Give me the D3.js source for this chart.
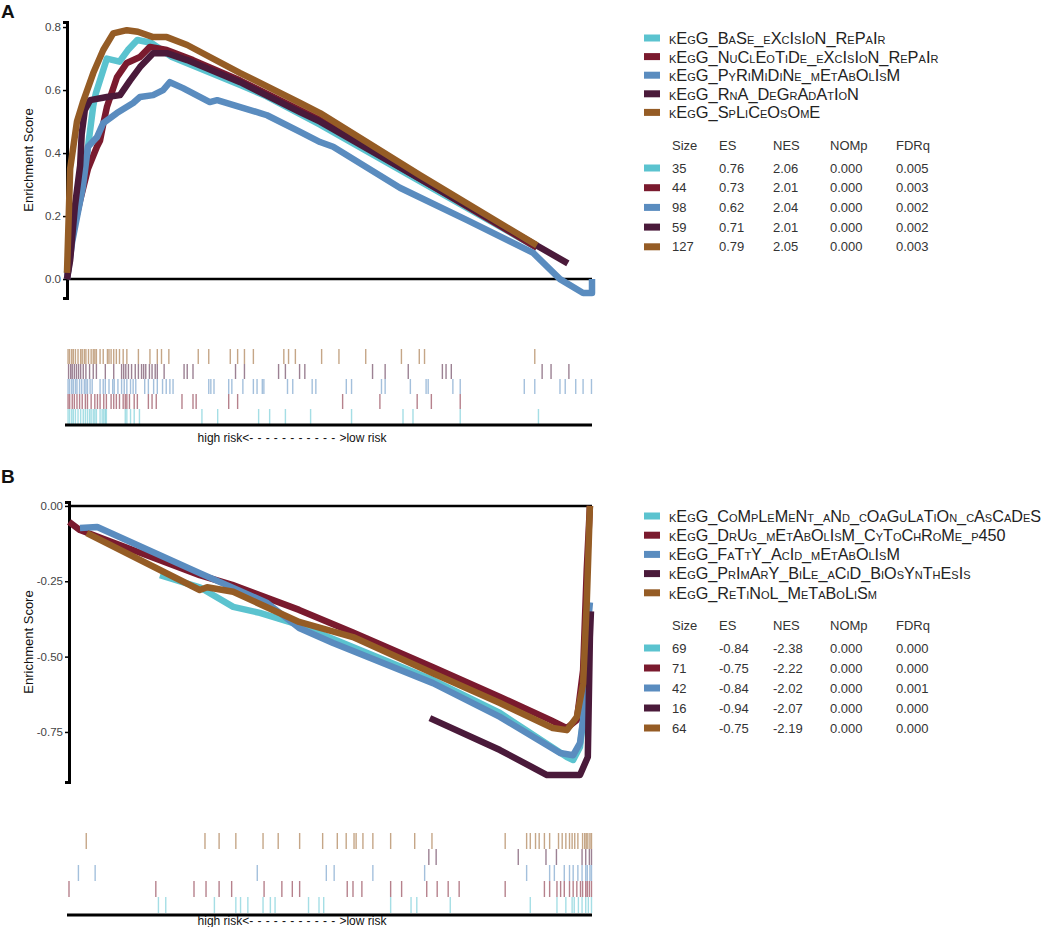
<!DOCTYPE html>
<html>
<head>
<meta charset="utf-8">
<script src="https://cdn.jsdelivr.net/npm/d3@7"></script>
<style>
  body { margin: 0; background: #fff; }
  text { font-family: "Liberation Sans", Arial, sans-serif; }
</style>
</head>
<body>
<svg id="chart" width="1052" height="927"></svg>
<script>
// colours shared by both panels (legend order)
const seriesColours = ["#5bc3cf", "#7a1a2e", "#5a8cbf", "#4a1a3a", "#955c25"];

// ---------- panel A ----------
const aNames = [
  "kEgG_BaSe_eXcIsIoN_RePaIr",
  "kEgG_NuClEoTiDe_eXcIsIoN_RePaIr",
  "kEgG_PyRiMiDiNe_mEtAbOlIsM",
  "kEgG_RnA_DeGrAdAtIoN",
  "kEgG_SpLiCeOsOmE"
];
const aSize = ["35", "44", "98", "59", "127"];
const aES = ["0.76", "0.73", "0.62", "0.71", "0.79"];
const aNES = ["2.06", "2.01", "2.04", "2.01", "2.05"];
const aNOMp = ["0.000", "0.000", "0.000", "0.000", "0.000"];
const aFDRq = ["0.005", "0.003", "0.002", "0.002", "0.003"];
const aTicks = [0, 0.2, 0.4, 0.6, 0.8];

// running enrichment score, [position in ranked list (0-1), ES]
const aBaseExcision = [[0,0.02],[0.01,0.15],[0.03,0.3],[0.04,0.42],[0.05,0.55],[0.055,0.59],[0.076,0.70],[0.10,0.69],[0.116,0.727],[0.134,0.759],[0.16,0.75],[0.2,0.705],[0.33,0.616],[0.38,0.58],[0.482,0.49],[0.895,0.10]];
const aNucleotideExcision = [[0,0],[0.01,0.14],[0.025,0.25],[0.04,0.35],[0.057,0.42],[0.063,0.44],[0.07,0.50],[0.076,0.546],[0.095,0.64],[0.114,0.686],[0.139,0.705],[0.158,0.737],[0.19,0.727],[0.24,0.695],[0.33,0.63],[0.482,0.505],[0.895,0.10]];
const aPyrimidine = [[0,0],[0.01,0.12],[0.03,0.29],[0.04,0.42],[0.057,0.45],[0.069,0.495],[0.095,0.527],[0.126,0.559],[0.139,0.578],[0.164,0.584],[0.183,0.60],[0.196,0.625],[0.221,0.606],[0.272,0.562],[0.286,0.568],[0.368,0.527],[0.381,0.52],[0.444,0.467],[0.482,0.435],[0.507,0.42],[0.634,0.29],[0.762,0.187],[0.888,0.083],[0.939,0.0],[0.983,-0.044],[1.0,-0.044],[1.0,0]];
const aRnaDegradation = [[0,0],[0.006,0.06],[0.015,0.23],[0.025,0.36],[0.028,0.46],[0.034,0.537],[0.044,0.568],[0.076,0.578],[0.101,0.584],[0.12,0.63],[0.139,0.673],[0.164,0.717],[0.19,0.717],[0.229,0.695],[0.33,0.625],[0.444,0.53],[0.482,0.50],[0.954,0.05]];
const aSpliceosome = [[0,0.02],[0.006,0.35],[0.019,0.5],[0.03,0.56],[0.05,0.654],[0.069,0.727],[0.088,0.78],[0.114,0.79],[0.135,0.785],[0.164,0.768],[0.19,0.768],[0.229,0.743],[0.33,0.654],[0.444,0.559],[0.482,0.527],[0.672,0.33],[0.895,0.107]];

// gene-set hits along the ranked list
const aHitsBase = [.002,.005,.009,.012,.016,.021,.026,.031,.035,.039,.043,.046,.050,.053,.056,.063,.067,.070,.073,.075,.111,.114,.121,.128,.138,.257,.287,.365,.386,.416,.464,.542,.640,.659,.749,.898];
const aHitsNucleotide = [.002,.005,.010,.014,.019,.024,.029,.035,.039,.046,.053,.058,.063,.070,.075,.084,.089,.094,.100,.107,.111,.114,.119,.128,.134,.155,.162,.170,.219,.240,.246,.308,.325,.525,.596,.667,.694,.749];
const aHitsPyrimidine = [.002,.005,.009,.012,.016,.019,.024,.028,.033,.036,.039,.044,.048,.063,.069,.073,.080,.087,.090,.097,.104,.109,.114,.121,.126,.131,.148,.155,.165,.172,.182,.189,.196,.202,.270,.274,.280,.308,.314,.335,.355,.362,.372,.375,.420,.430,.467,.474,.532,.542,.599,.606,.654,.684,.688,.735,.749,.871,.891,.939,.949,.969,.983,.999];
const aHitsRna = [.003,.007,.010,.014,.018,.022,.026,.031,.036,.043,.050,.056,.073,.089,.104,.108,.112,.117,.123,.130,.136,.142,.146,.150,.157,.162,.168,.172,.185,.223,.229,.240,.321,.338,.403,.416,.443,.453,.582,.606,.650,.715,.722,.732,.905,.922,.956];
const aHitsSpliceosome = [.002,.005,.009,.012,.016,.021,.026,.029,.033,.036,.041,.046,.050,.053,.056,.063,.069,.077,.080,.084,.089,.094,.100,.107,.114,.136,.158,.172,.180,.194,.250,.270,.311,.325,.338,.355,.413,.422,.435,.485,.518,.569,.637,.671,.681,.891];

// ---------- panel B ----------
const bNames = [
  "kEgG_CoMpLeMeNt_aNd_cOaGuLaTiOn_cAsCaDeS",
  "kEgG_DrUg_mEtAbOlIsM_CyToChRoMe_p450",
  "kEgG_FaTtY_AcId_mEtAbOlIsM",
  "kEgG_PrImArY_BiLe_aCiD_BiOsYnThEsIs",
  "kEgG_ReTiNoL_MeTaBoLiSm"
];
const bSize = ["69", "71", "42", "16", "64"];
const bES = ["-0.84", "-0.75", "-0.84", "-0.94", "-0.75"];
const bNES = ["-2.38", "-2.22", "-2.02", "-2.07", "-2.19"];
const bNOMp = ["0.000", "0.000", "0.000", "0.000", "0.000"];
const bFDRq = ["0.000", "0.000", "0.001", "0.000", "0.000"];
const bTicks = [0, -0.25, -0.5, -0.75];

const bComplement = [[0.174,-0.23],[0.25,-0.27],[0.314,-0.335],[0.365,-0.355],[0.44,-0.395],[0.696,-0.578],[0.824,-0.687],[0.952,-0.833],[0.964,-0.843],[0.977,-0.80],[0.987,-0.654],[0.99,-0.55]];
const bDrugMetabolism = [[0,-0.053],[0.021,-0.08],[0.25,-0.23],[0.312,-0.262],[0.44,-0.345],[0.543,-0.42],[0.696,-0.535],[0.824,-0.634],[0.92,-0.71],[0.952,-0.737],[0.971,-0.71],[0.983,-0.545],[0.99,-0.21],[0.996,0]];
const bFattyAcid = [[0.021,-0.073],[0.054,-0.07],[0.25,-0.223],[0.379,-0.322],[0.44,-0.405],[0.505,-0.455],[0.696,-0.588],[0.824,-0.70],[0.939,-0.82],[0.964,-0.827],[0.977,-0.787],[0.983,-0.71],[0.99,-0.435],[0.996,-0.32]];
const bBileAcid = [[0.69,-0.704],[0.824,-0.81],[0.914,-0.893],[0.977,-0.893],[0.992,-0.833],[0.996,-0.435],[0.998,-0.35]];
const bRetinol = [[0.034,-0.09],[0.25,-0.279],[0.264,-0.27],[0.314,-0.285],[0.44,-0.385],[0.543,-0.435],[0.696,-0.555],[0.824,-0.654],[0.925,-0.737],[0.952,-0.744],[0.971,-0.70],[0.983,-0.59],[0.99,-0.32],[0.996,0]];

const bHitsComplement = [.171,.185,.278,.319,.328,.342,.371,.385,.394,.458,.478,.487,.615,.654,.665,.729,.882,.933,.950,.962,.966,.974,.981,.988,.993,.999];
const bHitsDrug = [.000,.166,.239,.262,.287,.311,.373,.407,.427,.441,.532,.543,.560,.615,.636,.684,.704,.725,.746,.834,.909,.919,.933,.940,.947,.957,.964,.971,.978,.982,.988,.991,.995,.999];
const bHitsFatty = [.018,.050,.360,.492,.507,.581,.680,.875,.919,.928,.947,.957,.964,.973,.981,.988,.991,.996,.999];
const bHitsBile = [.688,.702,.859,.912,.932,.981,.988,.995,.999];
const bHitsRetinol = [.033,.260,.287,.319,.371,.400,.441,.485,.513,.530,.545,.549,.562,.581,.615,.661,.694,.834,.875,.882,.892,.899,.909,.919,.936,.943,.950,.957,.962,.967,.973,.982,.986,.989,.992,.996,.999];

const svg = d3.select("#chart");

function drawPanel(p) {
  const g = svg.append("g");
  const x = d3.scaleLinear().domain([0, 1]).range([p.left, p.right]);
  const y = d3.scaleLinear().domain(p.yDomain).range([p.bottom, p.top]);

  // panel letter
  g.append("text")
    .attr("x", 1).attr("y", p.letterY)
    .attr("font-size", 19).attr("font-weight", "bold").attr("fill", "#111")
    .text(p.letter);

  // y axis
  const yAxis = g.append("g")
    .attr("transform", `translate(${p.left},0)`)
    .call(d3.axisLeft(y).tickValues(p.ticks).tickSize(4).tickPadding(2)
      .tickFormat((d) => d.toFixed(p.decimals)));
  yAxis.select(".domain").attr("stroke", "#000").attr("stroke-width", 3);
  yAxis.selectAll(".tick line").attr("stroke", "#000").attr("stroke-width", 1.5);
  yAxis.selectAll(".tick text").attr("fill", "#444").attr("font-size", 11.5)
    .attr("font-family", "Liberation Sans, Arial, sans-serif");

  // zero line
  g.append("line")
    .attr("x1", p.left).attr("x2", p.right)
    .attr("y1", y(0)).attr("y2", y(0))
    .attr("stroke", "#000").attr("stroke-width", 2.5);

  g.append("text")
    .attr("transform", `translate(${p.titleX},${(p.top + p.bottom) / 2}) rotate(-90)`)
    .attr("text-anchor", "middle").attr("font-size", 13).attr("fill", "#111")
    .text("Enrichment Score");

  // running-sum curves
  const line = d3.line().x((d) => x(d[0])).y((d) => y(d[1]));
  p.curves.forEach((c, i) => {
    g.append("path")
      .datum(c)
      .attr("d", line)
      .attr("fill", "none")
      .attr("stroke", seriesColours[i])
      .attr("stroke-width", 6.5)
      .attr("stroke-linejoin", "round");
  });

  // hit rugs, last series on top row
  const n = p.hits.length;
  p.hits.forEach((hits, i) => {
    const row = n - 1 - i;
    const y0 = p.rugTop + row * p.rugRow;
    g.append("g")
      .selectAll("line")
      .data(hits)
      .enter()
      .append("line")
      .attr("x1", (d) => x(d)).attr("x2", (d) => x(d))
      .attr("y1", y0).attr("y2", y0 + p.rugRow)
      .attr("stroke", seriesColours[i])
      .attr("stroke-width", 1.4)
      .attr("stroke-opacity", 0.55);
  });
  g.append("line")
    .attr("x1", p.left - 2).attr("x2", p.right)
    .attr("y1", p.rugLine).attr("y2", p.rugLine)
    .attr("stroke", "#000").attr("stroke-width", 3);

  const risk = g.append("text")
    .attr("x", 292).attr("y", p.riskY)
    .attr("text-anchor", "middle").attr("font-size", 12).attr("fill", "#111");
  risk.append("tspan").text("high risk<");
  risk.append("tspan").attr("letter-spacing", 4.2).text("-----------");
  risk.append("tspan").text(">low risk");

  // legend of gene sets
  const leg = g.append("g");
  p.names.forEach((name, i) => {
    const yy = p.legendY + i * p.legendStep;
    leg.append("rect")
      .attr("x", 644).attr("y", yy - 3.5).attr("width", 16).attr("height", 7)
      .attr("fill", seriesColours[i]);
    leg.append("text")
      .attr("x", 669).attr("y", yy).attr("dy", "0.36em")
      .attr("font-size", p.legendFont).attr("fill", "#222")
      .style("font-variant", "small-caps")
      .text(name);
  });

  // statistics table
  const cols = [
    { head: "Size", x: 672, vals: p.size },
    { head: "ES", x: 719, vals: p.es },
    { head: "NES", x: 773, vals: p.nes },
    { head: "NOMp", x: 830, vals: p.nomp },
    { head: "FDRq", x: 896, vals: p.fdrq }
  ];
  cols.forEach((c) => {
    leg.append("text")
      .attr("x", c.x).attr("y", p.headY).attr("dy", "0.36em")
      .attr("font-size", 13).attr("fill", "#333").text(c.head);
    c.vals.forEach((v, i) => {
      leg.append("text")
        .attr("x", c.x).attr("y", p.rowY + i * p.rowStep).attr("dy", "0.36em")
        .attr("font-size", 13).attr("fill", "#333").text(v);
    });
  });
  p.size.forEach((v, i) => {
    leg.append("rect")
      .attr("x", 644).attr("y", p.rowY + i * p.rowStep - 3.5)
      .attr("width", 16).attr("height", 7)
      .attr("fill", seriesColours[i]);
  });
}

drawPanel({
  letter: "A", letterY: 18, titleX: 33,
  left: 67, right: 592, top: 22, bottom: 298,
  yDomain: [-0.06, 0.816], ticks: aTicks, decimals: 1,
  curves: [aBaseExcision, aNucleotideExcision, aPyrimidine, aRnaDegradation, aSpliceosome],
  hits: [aHitsBase, aHitsNucleotide, aHitsPyrimidine, aHitsRna, aHitsSpliceosome],
  rugTop: 349, rugRow: 15, rugLine: 425, riskY: 442,
  names: aNames, legendY: 38, legendStep: 18.6, legendFont: 16.4,
  size: aSize, es: aES, nes: aNES, nomp: aNOMp, fdrq: aFDRq,
  headY: 145, rowY: 168, rowStep: 19.7
});

drawPanel({
  letter: "B", letterY: 483, titleX: 33,
  left: 69, right: 592, top: 502, bottom: 782,
  yDomain: [-0.916, 0.013], ticks: bTicks, decimals: 2,
  curves: [bComplement, bDrugMetabolism, bFattyAcid, bBileAcid, bRetinol],
  hits: [bHitsComplement, bHitsDrug, bHitsFatty, bHitsBile, bHitsRetinol],
  rugTop: 833, rugRow: 16, rugLine: 915, riskY: 925,
  names: bNames, legendY: 516, legendStep: 19.2, legendFont: 16.2,
  size: bSize, es: bES, nes: bNES, nomp: bNOMp, fdrq: bFDRq,
  headY: 625, rowY: 648, rowStep: 20
});
</script>
</body>
</html>
